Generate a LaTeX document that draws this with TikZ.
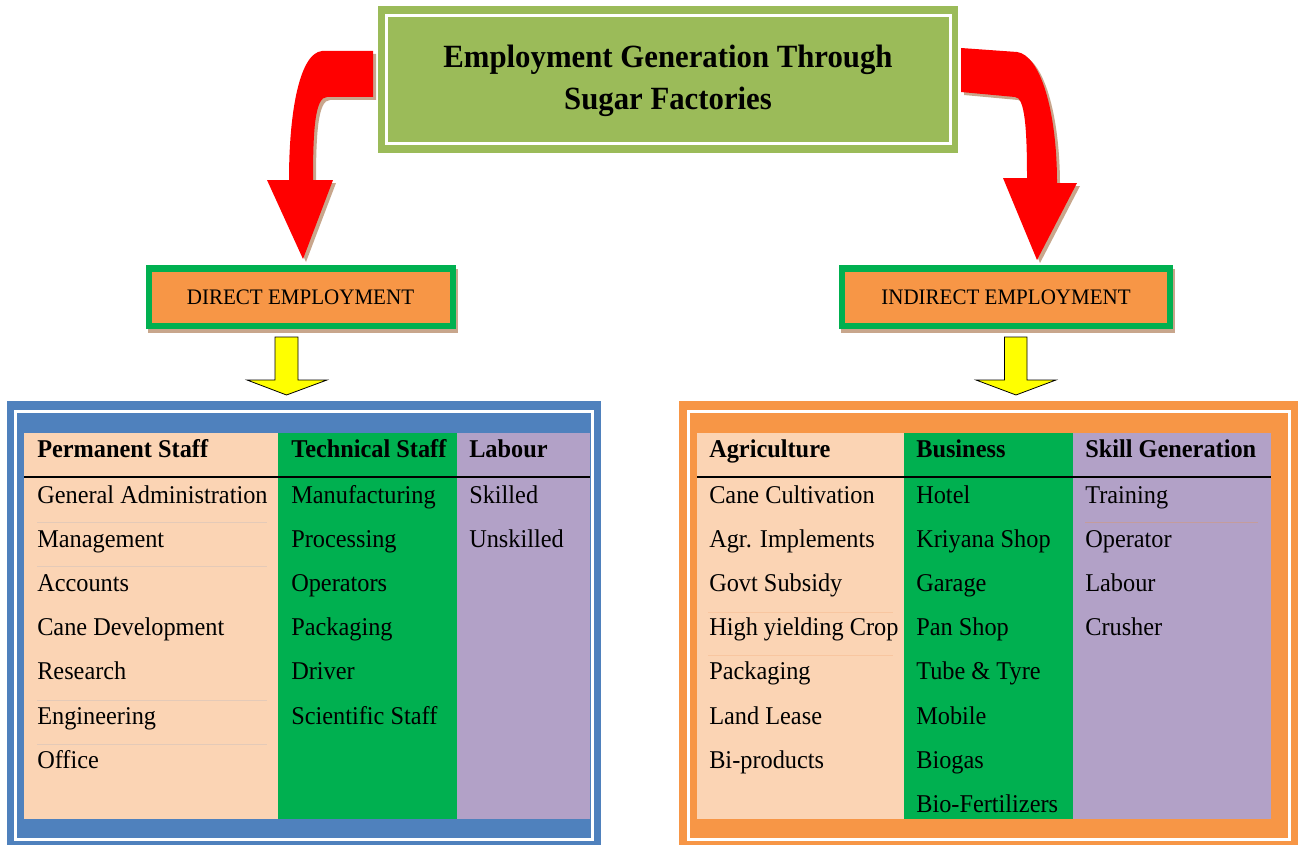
\documentclass[tikz,border=0pt]{standalone}
\usepackage{fontspec}
\setmainfont{Liberation Serif}[FakeStretch=0.95]
\definecolor{cTitle}{HTML}{9BBB59}
\definecolor{cGreen}{HTML}{00B050}
\definecolor{cOrange}{HTML}{F79646}
\definecolor{cBlue}{HTML}{4F81BD}
\definecolor{cPeach}{HTML}{FBD4B4}
\definecolor{cPurple}{HTML}{B2A1C7}
\definecolor{cShadow}{RGB}{200,166,140}
\definecolor{cRed}{HTML}{FF0000}
\definecolor{cYellow}{HTML}{FFFF00}
\definecolor{cSepL}{RGB}{228,202,184}
\definecolor{cSepA}{RGB}{248,198,160}
\definecolor{cSepS}{RGB}{196,156,156}
\begin{document}
\begin{tikzpicture}[x=0.75pt,y=-0.75pt,
  cell/.style={anchor=base west,inner sep=0pt,font=\fontsize{19.2}{23}\selectfont},
  hcell/.style={anchor=base west,inner sep=0pt,font=\fontsize{19.2}{23}\selectfont\bfseries},
  titletext/.style={anchor=base,inner sep=0pt,font=\fontsize{24.3}{29}\selectfont\bfseries},
  subtext/.style={anchor=base,inner sep=0pt,font=\fontsize{16.6}{20}\selectfont},
  whiteline/.style={draw=white,line width=2.25pt},
  yarrow/.style={draw=black,fill=cYellow,line width=0.6pt,line join=miter},
  sepline/.style={line width=0.75pt}]
\useasboundingbox (0,0) rectangle (1298,845);

% ---------- title box ----------
\fill[cTitle] (378,6) rectangle (958,153);
\draw[whiteline] (386.5,15.5) rectangle (950,143.5);
\node[titletext] (title1) at (668,68) {Employment Generation Through};
\node[titletext] (title2) at (668,110) {Sugar Factories};

% ---------- red curved arrows (shadow first) ----------
\begin{scope}[shift={(3,3)}]
\fill[cShadow] (373,51) -- (322,51) .. controls (300,53) and (289,110) .. (289,180)
  -- (267,180) -- (303,259) -- (333,180) -- (313,180)
  .. controls (313,130) and (315,97) .. (327,97) -- (373,97) -- cycle;
\fill[cShadow] (961,48) -- (1017,52) .. controls (1040,55) and (1057,110) .. (1057,183)
  -- (1077,183) -- (1037,260) -- (1003,178) -- (1027,178)
  .. controls (1027,130) and (1025,97) .. (1015,97) -- (961,92) -- cycle;
\end{scope}
\fill[cRed] (373,51) -- (322,51) .. controls (300,53) and (289,110) .. (289,180)
  -- (267,180) -- (303,259) -- (333,180) -- (313,180)
  .. controls (313,130) and (315,97) .. (327,97) -- (373,97) -- cycle;
\fill[cRed] (961,48) -- (1017,52) .. controls (1040,55) and (1057,110) .. (1057,183)
  -- (1077,183) -- (1037,260) -- (1003,178) -- (1027,178)
  .. controls (1027,130) and (1025,97) .. (1015,97) -- (961,92) -- cycle;

% ---------- sub-heading boxes ----------
\fill[cShadow] (148,269) rectangle (457.5,333);
\fill[cGreen] (146,265) rectangle (455.5,329);
\fill[cOrange] (152,271.5) rectangle (449.5,322.5);
\node[subtext] (direct) at (300.5,304) {DIRECT EMPLOYMENT};

\fill[cShadow] (841,269) rectangle (1175,333);
\fill[cGreen] (839,265) rectangle (1173,329);
\fill[cOrange] (845,271.5) rectangle (1167,322.5);
\node[subtext] (indirect) at (1006,304) {INDIRECT EMPLOYMENT};

% ---------- yellow arrows ----------
\draw[yarrow] (275,337) -- (298,337) -- (298,380) -- (327,380) -- (286.5,395) -- (247,380) -- (275,380) -- cycle;
\draw[yarrow] (1004.5,337) -- (1027,337) -- (1027,380) -- (1056,380) -- (1016,395) -- (976,380) -- (1004.5,380) -- cycle;

% ---------- left frame ----------
\fill[cBlue] (7,401) rectangle (601,846);
\draw[whiteline] (15,411) rectangle (592,839);
\fill[cPeach] (24,433) rectangle (278,819);
\fill[cGreen] (278,433) rectangle (457,819);
\fill[cPurple] (457,433) rectangle (590,819);
\draw[black,line width=0.8pt] (24,477) -- (590,477);
\foreach \yy in {522,566.5,700.5,744.5}
  \draw[sepline,cSepL] (37,\yy) -- (267,\yy);
\node[hcell] (hperm) at (37,457) {Permanent Staff};
\node[hcell] (htech) at (291,457) {Technical Staff};
\node[hcell] (hlab) at (469,457) {Labour};
\foreach \t [count=\i] in {General Administration,Management,Accounts,Cane Development,Research,Engineering,Office}
  \node[cell] (perm\i) at (37,{503+44.2*(\i-1)}) {\t};
\foreach \t [count=\i] in {Manufacturing,Processing,Operators,Packaging,Driver,Scientific Staff}
  \node[cell] (tech\i) at (291,{503+44.2*(\i-1)}) {\t};
\foreach \t [count=\i] in {Skilled,Unskilled}
  \node[cell] (lab\i) at (469,{503+44.2*(\i-1)}) {\t};

% ---------- right frame ----------
\fill[cOrange] (679,401) rectangle (1299,846);
\draw[whiteline] (688,411) rectangle (1289,839);
\fill[cPeach] (697,433) rectangle (904,819);
\fill[cGreen] (904,433) rectangle (1073,819);
\fill[cPurple] (1073,433) rectangle (1271,819);
\draw[black,line width=0.8pt] (697,477) -- (1271,477);
\foreach \yy in {612,655}
  \draw[sepline,cSepA] (708,\yy) -- (893,\yy);
\draw[sepline,cSepS] (1085,522.5) -- (1258,522.5);
\node[hcell] (hagr) at (709,457) {Agriculture};
\node[hcell] (hbus) at (916,457) {Business};
\node[hcell] (hskill) at (1085,457) {Skill Generation};
\foreach \t [count=\i] in {Cane Cultivation,Agr. Implements,Govt Subsidy,High yielding Crop,Packaging,Land Lease,Bi-products}
  \node[cell] (agr\i) at (709,{503+44.2*(\i-1)}) {\t};
\foreach \t [count=\i] in {Hotel,Kriyana Shop,Garage,Pan Shop,Tube \& Tyre,Mobile,Biogas,Bio-Fertilizers}
  \node[cell] (bus\i) at (916,{503+44.2*(\i-1)}) {\t};
\foreach \t [count=\i] in {Training,Operator,Labour,Crusher}
  \node[cell] (skill\i) at (1085,{503+44.2*(\i-1)}) {\t};
\end{tikzpicture}
\end{document}
